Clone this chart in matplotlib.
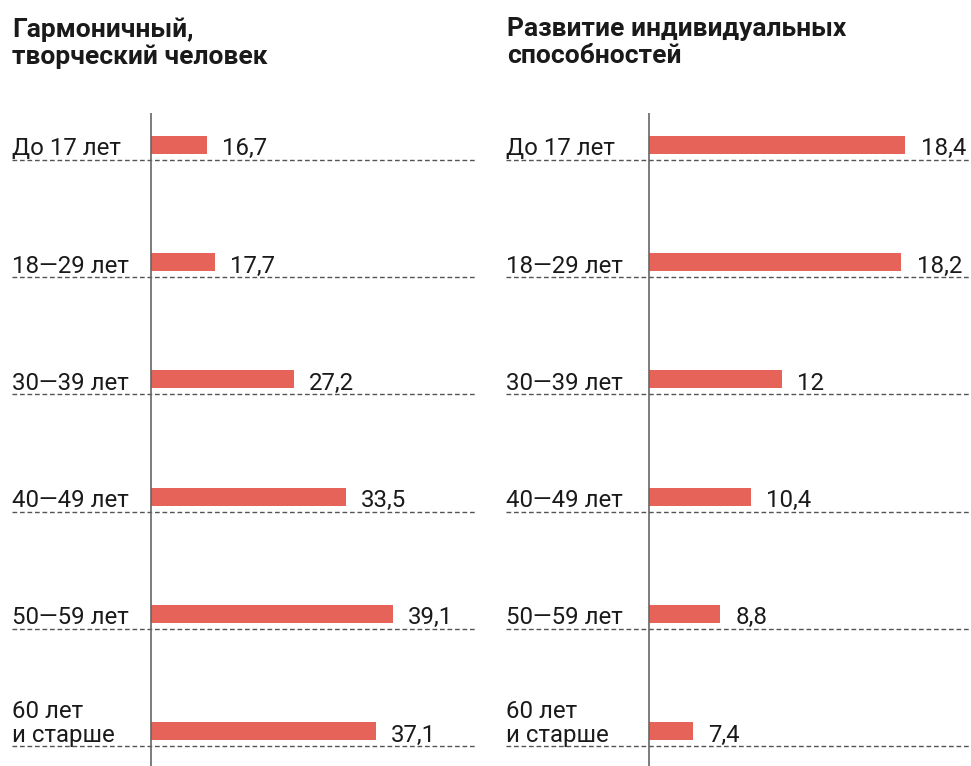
import matplotlib.pyplot as plt

plt.rcParams["font.family"] = ["Roboto", "DejaVu Sans"]

AGE_GROUPS = ["До 17 лет", "18—29 лет", "30—39 лет", "40—49 лет", "50—59 лет", "60 лет\nи старше"]
HARMONIOUS = [16.7, 17.7, 27.2, 33.5, 39.1, 37.1]
ABILITIES = [18.4, 18.2, 12, 10.4, 8.8, 7.4]
TITLES = ["Гармоничный,\nтворческий человек", "Развитие индивидуальных\nспособностей"]

BAR_COLOR = "#E6635A"
TEXT_COLOR = "#1a1a1a"
LINE_COLOR = "#555555"


def draw_panel(ax, values, start, xlim):
    rows = list(range(len(AGE_GROUPS)))
    ax.set_xlim(*xlim)
    ax.set_ylim(5.17, -0.40)
    ax.axis("off")

    # bars start at the vertical axis line, not at zero
    ax.barh([r - 0.128 for r in rows], [v - start for v in values], left=start,
            height=0.154, color=BAR_COLOR, zorder=2)
    ax.axvline(start, color="#666666", lw=1.2, zorder=3)

    label_tr = ax.get_yaxis_transform()
    for r, group, value in zip(rows, AGE_GROUPS, values):
        ax.axhline(r, color=LINE_COLOR, lw=1.0, linestyle=(0, (3.4, 2.0)), zorder=1)
        ax.annotate(group, xy=(0, r), xycoords=label_tr, xytext=(0, 3.2),
                    textcoords="offset points", ha="left", va="baseline",
                    fontsize=17.3, color=TEXT_COLOR, linespacing=1.05)
        ax.annotate(f"{value:g}".replace(".", ","), xy=(value, r), xytext=(11, 3.2),
                    textcoords="offset points", ha="left", va="baseline",
                    fontsize=17.3, color=TEXT_COLOR)


fig = plt.figure(figsize=(9.71, 7.66), dpi=100)
W, H = 971, 766

ax_left = fig.add_axes([12 / W, 0, 463 / W, 653 / H])
ax_right = fig.add_axes([506 / W, 0, 465 / W, 653 / H])

draw_panel(ax_left, HARMONIOUS, 10, (-6.75, 49.04))
draw_panel(ax_right, ABILITIES, 5.1, (-2.32, 21.81))

for x0, title in zip([12, 507], TITLES):
    fig.text(x0 / W, 1 - 17 / H, title, ha="left", va="top", fontsize=19,
             fontweight="bold", color=TEXT_COLOR, linespacing=1.17)

fig.savefig("out.png", dpi=100)
